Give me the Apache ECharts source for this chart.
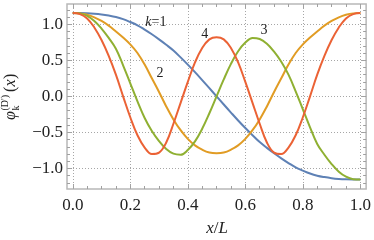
<!DOCTYPE html>
<html><head><meta charset="utf-8">
<script src="https://cdn.jsdelivr.net/npm/echarts@6/dist/echarts.min.js"></script>
<style>html,body{margin:0;padding:0;background:#fff}#c{width:374px;height:240px}</style>
</head><body><div id="c"></div>
<script>
// ---- data ----
const xs = [0, 0.025, 0.05, 0.075, 0.1, 0.125, 0.15, 0.175, 0.2, 0.225, 0.25, 0.275, 0.3, 0.325, 0.35, 0.375, 0.4, 0.425, 0.45, 0.475, 0.5,
            0.525, 0.55, 0.575, 0.6, 0.625, 0.65, 0.675, 0.7, 0.725, 0.75, 0.775, 0.8, 0.825, 0.85, 0.875, 0.9, 0.925, 0.95, 0.975, 1];
const phi1 = [1.155, 1.154, 1.151, 1.145, 1.135, 1.12, 1.10, 1.07, 1.03, 0.985, 0.925, 0.86, 0.79, 0.715, 0.635, 0.54, 0.44, 0.335, 0.225, 0.113, 0,
              -0.113, -0.225, -0.335, -0.44, -0.54, -0.635, -0.715, -0.79, -0.86, -0.925, -0.985, -1.03, -1.07, -1.10, -1.12, -1.135, -1.145, -1.151, -1.154, -1.155];
const phi2 = [1.155, 1.15, 1.13, 1.095, 1.045, 0.98, 0.90, 0.815, 0.72, 0.60, 0.44, 0.25, 0.06, -0.14, -0.32, -0.47, -0.59, -0.68, -0.74, -0.78, -0.79,
              -0.78, -0.74, -0.68, -0.59, -0.47, -0.32, -0.14, 0.06, 0.25, 0.44, 0.60, 0.72, 0.815, 0.90, 0.98, 1.045, 1.095, 1.13, 1.15, 1.155];
const phi3 = [1.155, 1.15, 1.115, 1.045, 0.94, 0.81, 0.66, 0.43, 0.18, -0.07, -0.30, -0.48, -0.62, -0.73, -0.795, -0.81, -0.745, -0.625, -0.45, -0.235, 0,
              0.235, 0.45, 0.625, 0.745, 0.81, 0.795, 0.73, 0.62, 0.48, 0.30, 0.07, -0.18, -0.43, -0.66, -0.81, -0.94, -1.045, -1.115, -1.15, -1.155];
const phi4 = [1.155, 1.14, 1.08, 0.955, 0.78, 0.56, 0.30, 0.0, -0.29, -0.54, -0.71, -0.80, -0.78, -0.64, -0.38, -0.09, 0.20, 0.47, 0.67, 0.79, 0.82,
              0.79, 0.67, 0.47, 0.20, -0.09, -0.38, -0.64, -0.78, -0.80, -0.71, -0.54, -0.29, 0.0, 0.30, 0.56, 0.78, 0.955, 1.08, 1.14, 1.155];
const xTicks = [0, 0.2, 0.4, 0.6, 0.8, 1.0];
const xMinorTicks = [0, 0.05, 0.1, 0.15, 0.2, 0.25, 0.3, 0.35, 0.4, 0.45, 0.5, 0.55, 0.6, 0.65, 0.7, 0.75, 0.8, 0.85, 0.9, 0.95, 1.0];
const yTicks = [-1.0, -0.5, 0.0, 0.5, 1.0];
const yMinorTicks = [-1.2, -1.1, -1.0, -0.9, -0.8, -0.7, -0.6, -0.5, -0.4, -0.3, -0.2, -0.1, 0, 0.1, 0.2, 0.3, 0.4, 0.5, 0.6, 0.7, 0.8, 0.9, 1.0, 1.1, 1.2];
const curveNames = ['k=1', '2', '3', '4'];
const curveColors = ['#5E81B5', '#E19C24', '#8FB032', '#EB6235'];
// label anchors (data coordinates) for the in-plot curve labels
const labelAnchors = [[0.289, 1.02], [0.303, 0.32], [0.665, 0.91], [0.459, 0.865]];

const SERIF = '"Liberation Serif", "DejaVu Serif", serif';
const frameColor = '#b8b8b8';
const tickColor = '#a0a0a0';
const gridColor = '#a6a6a6';
const X_RANGE = [-0.02, 1.02];
const Y_RANGE = [-1.285, 1.28];

function fmt(v) {
  const s = Math.abs(v).toFixed(1);
  return (v < -1e-9 ? '\u2212' : '') + s;
}

function xAx(pos, ticks, len, withLabel) {
  return {
    type: 'value', min: X_RANGE[0], max: X_RANGE[1], position: pos,
    axisLine: { show: false, onZero: false },
    axisTick: { show: true, inside: true, length: len, customValues: ticks, lineStyle: { color: tickColor, width: 1 } },
    axisLabel: withLabel ? { show: true, customValues: ticks, formatter: fmt, fontFamily: SERIF, fontSize: 17, color: '#222', margin: 8 } : { show: false },
    splitLine: { show: false },
    minorTick: { show: false }
  };
}
function yAx(pos, ticks, len, withLabel) {
  return {
    type: 'value', min: Y_RANGE[0], max: Y_RANGE[1], position: pos,
    axisLine: { show: false, onZero: false },
    axisTick: { show: true, inside: true, length: len, customValues: ticks, lineStyle: { color: tickColor, width: 1 } },
    axisLabel: withLabel ? { show: true, customValues: ticks, formatter: fmt, fontFamily: SERIF, fontSize: 17, color: '#222', margin: 4 } : { show: false },
    splitLine: { show: false },
    minorTick: { show: false }
  };
}

const series = [phi1, phi2, phi3, phi4].map((arr, i) => ({
  type: 'line', name: curveNames[i], xAxisIndex: 0, yAxisIndex: 0,
  data: xs.map((x, j) => [x, arr[j]]),
  smooth: 0.4, showSymbol: false, symbol: 'none',
  lineStyle: { color: curveColors[i], width: 2 },
  z: 2 + i, animation: false
}));

const chart = echarts.init(document.getElementById('c'), null, { renderer: 'canvas' });
chart.setOption({
  animation: false,
  backgroundColor: '#fff',
  grid: { left: 67, right: 7, top: 4, bottom: 51, show: true, borderColor: frameColor, borderWidth: 1.5, backgroundColor: 'transparent', containLabel: false },
  xAxis: [
    xAx('bottom', xTicks, 5, true),
    xAx('bottom', xMinorTicks, 3, false),
    xAx('top', xTicks, 5, false),
    xAx('top', xMinorTicks, 3, false)
  ],
  yAxis: [
    yAx('left', yTicks, 5, true),
    yAx('left', yMinorTicks, 3, false),
    yAx('right', yTicks, 5, false),
    yAx('right', yMinorTicks, 3, false)
  ],
  series: series
});

const toPx = p => chart.convertToPixel({ xAxisIndex: 0, yAxisIndex: 0 }, p);
const crisp = v => Math.round(v) + 0.5;

// dotted grid lines at the major ticks, positioned through the axes' scales
const gridEls = [];
xTicks.forEach(v => {
  const a = toPx([v, Y_RANGE[0]]), b = toPx([v, Y_RANGE[1]]);
  gridEls.push({ type: 'line', z: 1, silent: true, shape: { x1: crisp(a[0]), y1: a[1], x2: crisp(b[0]), y2: b[1] }, style: { stroke: gridColor, lineWidth: 1, lineDash: [1, 2] } });
});
yTicks.forEach(v => {
  const a = toPx([X_RANGE[0], v]), b = toPx([X_RANGE[1], v]);
  gridEls.push({ type: 'line', z: 1, silent: true, shape: { x1: a[0], y1: crisp(a[1]), x2: b[0], y2: crisp(b[1]) }, style: { stroke: gridColor, lineWidth: 1, lineDash: [1, 2] } });
});

// in-plot curve labels, placed through the axes' scales
const labelEls = labelAnchors.map((p, i) => {
  const px = toPx(p);
  const txt = curveNames[i];
  if (i === 0) {
    return { type: 'text', x: px[0], y: px[1], z: 100, style: { text: '{k|k}{n|=1}', rich: { k: { fontFamily: SERIF, fontStyle: 'italic', fontSize: 14, fill: '#222' }, n: { fontFamily: SERIF, fontSize: 14, fill: '#222' } }, align: 'center', verticalAlign: 'middle', textAlign: 'center', textVerticalAlign: 'middle' } };
  }
  return { type: 'text', x: px[0], y: px[1], z: 100, style: { text: txt, font: '14px ' + SERIF, fill: '#222', align: 'center', verticalAlign: 'middle', textAlign: 'center', textVerticalAlign: 'middle' } };
});

const ylab = {
  type: 'group', x: 11, y: 120, rotation: Math.PI / 2,
  children: [
    { type: 'text', x: 0, y: 0, style: { text: '\u03c6', font: 'italic 16px ' + SERIF, fill: '#222', verticalAlign: 'middle', textVerticalAlign: 'middle' } },
    { type: 'text', x: 9.5, y: 5, style: { text: 'k', font: '10px ' + SERIF, fill: '#222', verticalAlign: 'middle', textVerticalAlign: 'middle' } },
    { type: 'text', x: 9.5, y: -6, style: { text: "(D')", font: '10px ' + SERIF, fill: '#222', verticalAlign: 'middle', textVerticalAlign: 'middle' } },
    { type: 'text', x: 28, y: 0, style: { text: '(', font: '16px ' + SERIF, fill: '#222', verticalAlign: 'middle', textVerticalAlign: 'middle' } },
    { type: 'text', x: 33.5, y: 0, style: { text: 'x', font: 'italic 16px ' + SERIF, fill: '#222', verticalAlign: 'middle', textVerticalAlign: 'middle' } },
    { type: 'text', x: 41, y: 0, style: { text: ')', font: '16px ' + SERIF, fill: '#222', verticalAlign: 'middle', textVerticalAlign: 'middle' } }
  ]
};

const xlab = {
  type: 'text', x: 217, y: 229,
  style: { text: '{i|x}{n|/}{i|L}', rich: { i: { fontFamily: SERIF, fontStyle: 'italic', fontSize: 17, fill: '#222' }, n: { fontFamily: SERIF, fontSize: 17, fill: '#222' } }, align: 'center', verticalAlign: 'middle', textAlign: 'center', textVerticalAlign: 'middle' }
};

chart.setOption({ graphic: gridEls.concat(labelEls, [ylab, xlab]) });
</script>
</body></html>
